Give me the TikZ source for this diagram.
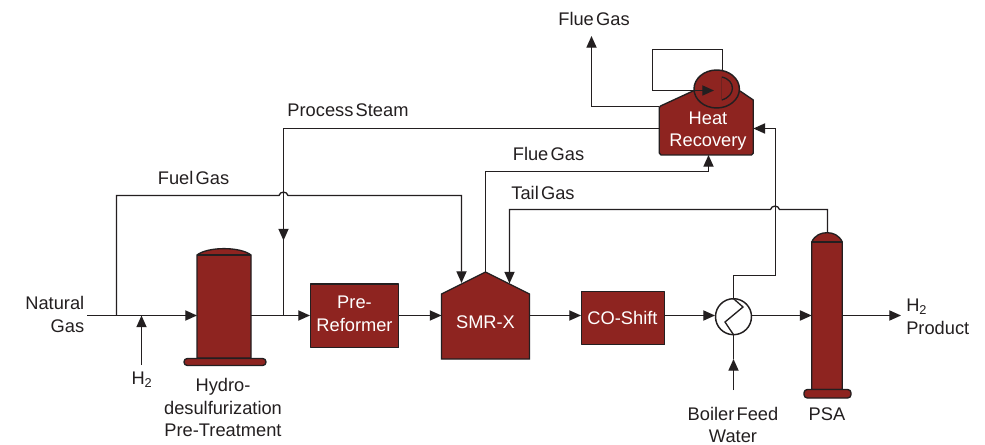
\documentclass[tikz,border=0pt]{standalone}
\usepackage{fontspec}
\setmainfont[WordSpace=0.45]{Liberation Sans}
\usetikzlibrary{arrows.meta}
\definecolor{brick}{HTML}{8E2420}
\definecolor{ink}{HTML}{231F20}
\tikzset{
  x=0.75pt,y=-0.75pt,
  line/.style={draw=ink,line width=1pt,line join=miter},
  flow/.style={line,-{Triangle[length=8.8pt,width=7.6pt,color=ink]}},
  unit/.style={draw=ink,line width=1pt,fill=brick,line join=round},
  boxunit/.style={unit,inner sep=0pt,anchor=north west},
  lbl/.style={text=ink,font=\fontsize{13.7pt}{17pt}\selectfont,align=center,inner sep=0pt},
  wlbl/.style={lbl,text=white},
}
\begin{document}
\begin{tikzpicture}
\useasboundingbox (0,0) rectangle (985,445);
\fill[white] (0,0) rectangle (985,445);

% ports and bends
\coordinate (feedIn) at (87,315.5);
\coordinate (fuelTee) at (116.5,315.5);
\coordinate (h2In) at (141.5,365);
\coordinate (h2Tee) at (141.5,315.5);
\coordinate (hdsIn) at (197,315.5);
\coordinate (hdsOut) at (251,315.5);
\coordinate (steamTee) at (283.5,315.5);
\coordinate (preIn) at (310,315.5);
\coordinate (preOut) at (398,315.5);
\coordinate (smrIn) at (441.5,315.5);
\coordinate (smrOut) at (529.5,315.5);
\coordinate (smrApex) at (485.5,272);
\coordinate (smrFuel) at (461.5,283);
\coordinate (smrTail) at (509.5,283.5);
\coordinate (shiftIn) at (581,315.5);
\coordinate (shiftOut) at (664,315.5);
\coordinate (hxC) at (733.5,316.7);
\coordinate (psaIn) at (811.7,315.5);
\coordinate (psaOut) at (842.3,315.5);
\coordinate (psaTop) at (827.5,232.7);
\coordinate (prodOut) at (901,315.5);
\coordinate (hrLeftTop) at (659.3,106.5);
\coordinate (hrSteam) at (659.3,128.5);
\coordinate (hrRight) at (753.3,128.5);
\coordinate (hrBottom) at (708.5,155);
\coordinate (flueOut) at (591.5,36);
\coordinate (bfwIn) at (733.5,390);
\coordinate (bfwMid) at (733.5,359);
\coordinate (steamMid) at (283.5,240.5);
\coordinate (pumpC) at (716.7,89);
\coordinate (loopTip) at (714,90.5);

% connectors
\draw[flow] (feedIn) -- (hdsIn);
\draw[flow] (h2In) -- (h2Tee);
\draw[flow] (hdsOut) -- (preIn);
\draw[flow] (preOut) -- (smrIn);
\draw[flow] (smrOut) -- (shiftIn);
\draw[flow] (shiftOut) -- (715,315.5);
\draw[flow] (751.5,315.5) -- (psaIn);
\draw[flow] (psaOut) -- (prodOut);
\draw[flow] (bfwIn) -- (bfwMid);
\draw[line] (bfwMid) -- (733.5,335);

% process steam
\draw[flow] (hrSteam) -- (283.5,128.5) -- (steamMid);
\draw[line] (steamMid) -- (steamTee);
% fuel gas with hop
\draw[flow] (fuelTee) -- (116.5,195.5) -- (279,195.5)
  .. controls (280,191) and (287,191) .. (288,195.5)
  -- (461.5,195.5) -- (smrFuel);
% flue gas from SMR-X
\draw[flow] (smrApex) -- (485.5,171.5) -- (708.5,171.5) -- (hrBottom);
% tail gas with hop
\draw[flow] (psaTop) -- (827.5,209.5) -- (779.5,209.5)
  .. controls (778.5,205) and (771.5,205) .. (770.5,209.5)
  -- (509.5,209.5) -- (smrTail);
% steam to heat recovery
\draw[flow] (733.5,298) -- (733.5,275.5) -- (775.5,275.5) -- (775.5,128.5) -- (hrRight);
% flue gas out
\draw[flow] (hrLeftTop) -- (591.5,106.5) -- (flueOut);

% Heat recovery
\draw[unit] (660.5,106) -- (693,91) -- (740,91) -- (753.3,100) -- (753.3,153)
  -- (751.5,155) -- (661,155) -- (659.3,153) -- (659.3,107.5) -- cycle;
\node[wlbl] (hrLabel) at (708,131) {Heat\\Recovery};
% pump
\draw[unit,line width=1.1pt] (pumpC) ellipse [x radius=22.7,y radius=19];
\draw[line] (721.7,77) .. controls (736,80) and (736,96) .. (721.7,100);
\draw[draw=ink!30!brick,line width=0.5pt] (721.7,77) -- (721.7,100);
% recirculation loop
\draw[flow] (722.5,70) -- (722.5,49.5) -- (652.5,49.5) -- (652.5,90.5) -- (loopTip);

% HDS column
\draw[unit] (197,255) .. controls (208,246.5) and (240,246.5) .. (251,255) -- (251,358) -- (197,358) -- cycle;
\draw[line] (197,255) -- (251,255);
\draw[unit,rounded corners=2.5pt] (184,358.5) rectangle (266,365.5);

% Pre-reformer, CO shift
\node[boxunit,minimum width=88pt*0.75,minimum height=63.5pt*0.75] (pre) at (310,283.5) {};
\node[wlbl] (preLabel) at (354.5,314) {Pre-\\Reformer};
\node[boxunit,minimum width=83pt*0.75,minimum height=53pt*0.75] (shift) at (581,291) {};
\node[wlbl] (shiftLabel) at (622.5,317.5) {CO-Shift};

% SMR-X
\draw[unit,line join=miter] (smrApex) -- (529.5,294) -- (529.5,359) -- (441.5,359) -- (441.5,294) -- cycle;
\node[wlbl] (smrLabel) at (485.5,322) {SMR-X};

% PSA
\draw[unit] (811.7,242) .. controls (815,235) and (821,232.7) .. (827,232.7)
  .. controls (833,232.7) and (839,235) .. (842.3,242) -- (842.3,389.5) -- (811.7,389.5) -- cycle;
\draw[line] (811.7,242) -- (842.3,242);
\draw[unit,rounded corners=2.5pt] (804,389.5) rectangle (851,398);

% exchanger
\draw[draw=ink,line width=1.1pt,fill=white] (hxC) circle [radius=18];
\draw[line] (733.5,298.7) -- (743,307) -- (725,322) -- (733.5,334.7);

% labels
\node[lbl] (t1) at (594,19) {Flue Gas};
\node[lbl] (t2) at (348,110.5) {Process Steam};
\node[lbl] (t3) at (193.5,177.5) {Fuel Gas};
\node[lbl] (t4) at (548.5,154) {Flue Gas};
\node[lbl] (t5) at (543,192.5) {Tail Gas};
\node[lbl,align=right,anchor=east] (t6) at (84.5,314.5) {Natural\\Gas};
\node[lbl] (t7) at (142,379.5) {H\textsubscript{2}};
\node[lbl] (t8) at (223,407.5) {Hydro-\\desulfurization\\Pre-Treatment};
\node[lbl] (t9) at (733,425) {Boiler Feed\\Water};
\node[lbl] (t10) at (827,414.5) {PSA};
\node[lbl,align=left,anchor=west] (t11) at (906,317) {H\textsubscript{2}\\Product};
\end{tikzpicture}
\end{document}
